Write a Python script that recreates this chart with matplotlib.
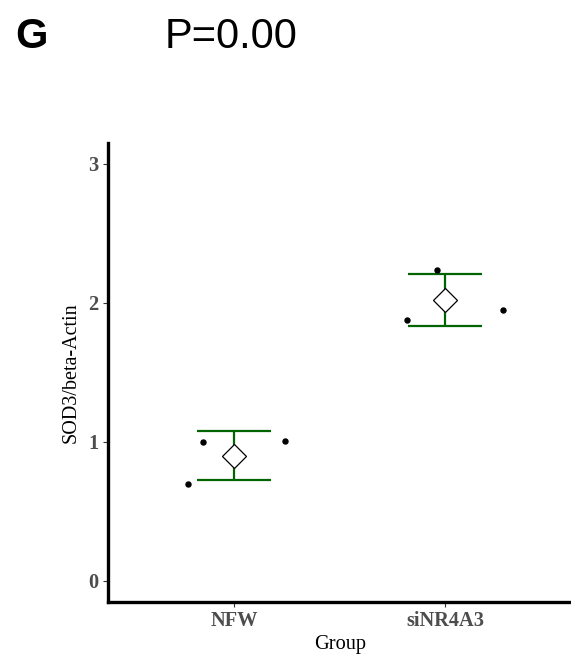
import numpy as np
import matplotlib
matplotlib.use("Agg")
import matplotlib.pyplot as plt

# Relative SOD3 expression (normalised to beta-Actin), three replicates per group
groups = ["NFW", "siNR4A3"]
nfw_values = [1.002, 1.005, 0.698]
sinr4a3_values = [2.234, 1.874, 1.952]
# horizontal jitter applied to the replicate points
nfw_jitter = [-0.147, 0.239, -0.221]
sinr4a3_jitter = [-0.040, -0.182, 0.272]
y_ticks = [0, 1, 2, 3]

values = [nfw_values, sinr4a3_values]
jitters = [nfw_jitter, sinr4a3_jitter]

W, H, DPI = 571, 655, 100
fig = plt.figure(figsize=(W / DPI, H / DPI), dpi=DPI)
ax = fig.add_axes([107.7 / W, 1 - 601.7 / H, (572 - 107.7) / W, (601.7 - 143) / H])

serif = ["Liberation Serif", "DejaVu Serif"]
tick_grey = "#4D4D4D"
green = "#006400"

for i, (vals, jit) in enumerate(zip(values, jitters)):
    x = i + 1
    vals = np.asarray(vals)
    mean = vals.mean()
    sd = vals.std(ddof=1)
    # mean +/- SD error bar
    ax.errorbar([x], [mean], yerr=[sd], fmt="none", ecolor=green,
                elinewidth=1.6, capsize=0, zorder=2)
    ax.hlines([mean - sd, mean + sd], x - 0.175, x + 0.175, colors=green,
              linewidth=1.6, zorder=2)
    # mean marker
    ax.plot([x], [mean], marker="D", markersize=12, markerfacecolor="white",
            markeredgecolor="black", markeredgewidth=0.9, linestyle="none", zorder=3)
    # individual replicates
    ax.plot(x + np.asarray(jit), vals, marker="o", markersize=3.6, color="black",
            linestyle="none", zorder=4)

ax.set_xlim(0.4, 2.6)
ax.set_ylim(-0.15, 3.15)
ax.set_xticks([1, 2])
ax.set_xticklabels(groups)
ax.set_yticks(y_ticks)
ax.set_yticklabels([str(t) for t in y_ticks])

for lab in ax.get_xticklabels() + ax.get_yticklabels():
    lab.set_fontfamily(serif)
    lab.set_fontweight("bold")
    lab.set_fontsize(14.7)
    lab.set_color(tick_grey)

ax.tick_params(axis="both", direction="out", length=3.4, width=0.8,
               color="#333333", pad=3)

for side in ["top", "right"]:
    ax.spines[side].set_visible(False)
for side in ["left", "bottom"]:
    ax.spines[side].set_linewidth(2.4)
    ax.spines[side].set_color("black")
    ax.spines[side].set_capstyle("projecting")

ax.set_xlabel("Group", fontfamily=serif, fontsize=14.7, color="black", labelpad=3)
ax.set_ylabel("SOD3/beta-Actin", fontfamily=serif, fontsize=14.5, color="black", labelpad=6)

sans = ["Liberation Sans", "DejaVu Sans"]
fig.text(15 / W, 1 - 48 / H, "G", fontfamily=sans, fontweight="bold",
         fontsize=30, va="baseline", ha="left")
fig.text(165 / W, 1 - 48 / H, "P=0.00", fontfamily=sans, fontsize=30,
         va="baseline", ha="left")

fig.savefig("out.png", dpi=DPI)
